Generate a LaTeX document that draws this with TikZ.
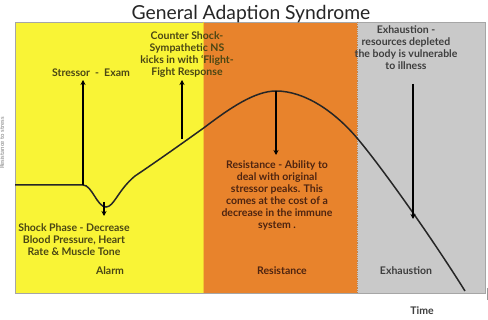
\documentclass[tikz,border=0pt]{standalone}
\usepackage{fontspec}
\setmainfont{Lato}
\usetikzlibrary{arrows.meta}
\definecolor{yel}{HTML}{F9F436}
\definecolor{org}{HTML}{E8832C}
\definecolor{gry}{HTML}{C9C9C9}
\definecolor{txy}{HTML}{4A4614}
\definecolor{txo}{HTML}{4E2410}
\definecolor{txg}{HTML}{3E3E3E}
\tikzset{
  lbl/.style={font=\bfseries\fontsize{10.5}{12}\selectfont, align=center, inner sep=0pt},
  phase/.style={font=\bfseries\fontsize{10.5}{12}\selectfont, inner sep=0pt},
  curve/.style={line width=1.5pt, black!85},
  arr/.style={line width=1.4pt, -{Stealth[length=5pt,width=5pt]}}
}
\begin{document}
\begin{tikzpicture}[x=1pt,y=-1pt]
\useasboundingbox (0,0) rectangle (488,320);
\fill[white] (0,0) rectangle (488,320);
% panels
\fill[yel] (15,22) rectangle (203,293);
\fill[org] (203,22) rectangle (357,293);
\fill[gry] (357,22) rectangle (485,293);
\draw[gray!70, line width=0.8pt] (15,22) rectangle (485,293);
\draw[gray!40!org, densely dotted, line width=0.8pt] (357,22) -- (357,293);
\draw[yel!60!org, line width=0.6pt] (203,22) -- (203,293);
\draw[gray!80, line width=0.8pt] (487,288) -- (487,300);
% title
\node[font=\fontsize{19.3}{21}\selectfont, text=black!85, inner sep=0pt] (title) at (251,14) {General Adaption Syndrome};
% axis labels
\node[font=\fontsize{6}{7}\selectfont, text=gray, rotate=90, inner sep=0pt] (ylab) at (2,143) {Resistance to stress};
\node[phase, text=txg] (time) at (422,311) {Time};
% curve coordinates
\coordinate (c0) at (15,185);
\coordinate (cs) at (83,185);
\coordinate (cdip) at (106,207);
\coordinate (cpk) at (276,91);
\draw[curve] (c0) -- (cs) .. controls (92,185) and (97,207) .. (cdip)
  .. controls (114,207) and (118,190) .. (135,176)
  .. controls (150,166) and (180,145) .. (205,127)
  .. controls (230,108) and (255,91) .. (cpk)
  .. controls (305,91) and (335,112) .. (357,138)
  .. controls (380,165) and (430,235) .. (465,291);
% labels
\node[lbl, text=txy] (stressor) at (91,73) {Stressor \ - \ Exam};
\node[lbl, text=txy] (counter) at (187,55) {Counter Shock-\\Sympathetic NS\\kicks in with `Flight-\\Fight Response};
\node[lbl, text=txy] (shock) at (74,240) {Shock Phase - Decrease\\Blood Pressure, Heart\\Rate \& Muscle Tone};
\node[lbl, text=txo] (resist) at (277,195) {Resistance - Ability to\\deal with original\\stressor peaks. This\\comes at the cost of a\\decrease in the immune\\system .};
\node[lbl, text=txg] (exh) at (406,48) {Exhaustion -\\resources depleted\\the body is vulnerable\\to illness};
\node[phase, text=txy] (alarm) at (110,271) {Alarm};
\node[phase, text=txo] (resph) at (282,271) {Resistance};
\node[phase, text=txg] (exhph) at (406,271) {Exhaustion};
% arrow endpoints
\coordinate (sttip) at (83,80);
\coordinate (cnb) at (182,139);
\coordinate (cnt) at (182,80);
\coordinate (shb) at (104,202);
\coordinate (sht) at (104,216);
\coordinate (rst) at (276,155);
\coordinate (exb) at (413,84);
\coordinate (ext) at (413,219);
\draw[arr] (cs) -- (sttip);
\draw[arr] (cnb) -- (cnt);
\draw[arr] (shb) -- (sht);
\draw[arr] (cpk) -- (rst);
\draw[arr] (exb) -- (ext);
\end{tikzpicture}
\end{document}
